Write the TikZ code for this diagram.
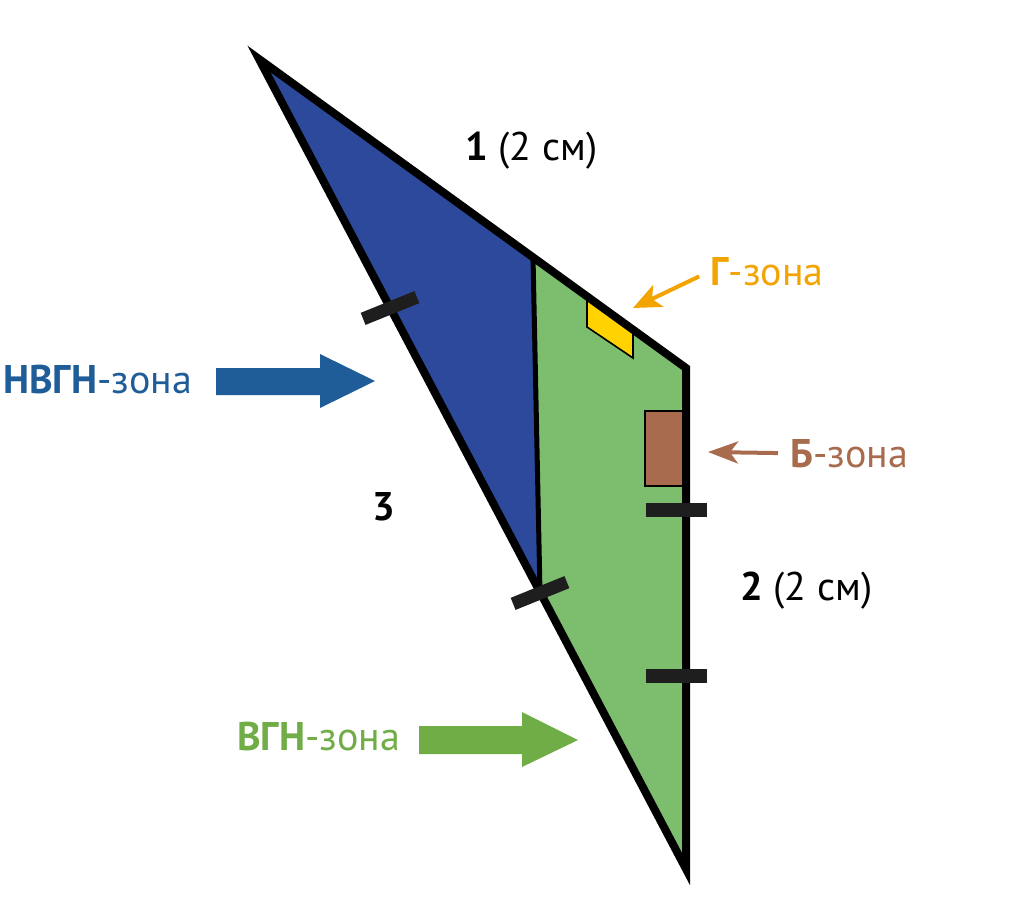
\documentclass[tikz,border=0pt]{standalone}
\usepackage{fontspec}
\setmainfont{PT Sans}
\usetikzlibrary{arrows.meta}
\definecolor{zblue}{RGB}{44,73,155}
\definecolor{zgreen}{RGB}{125,190,110}
\definecolor{tblue}{RGB}{31,93,153}
\definecolor{tgreen}{RGB}{112,173,71}
\definecolor{torange}{RGB}{244,164,0}
\definecolor{tbrown}{RGB}{168,107,77}
\definecolor{zyellow}{RGB}{255,210,0}
\definecolor{tickc}{RGB}{30,30,30}
\begin{document}
\begin{tikzpicture}[x=1pt,y=-1pt,
  lbl/.style={inner sep=0pt, anchor=base west, font=\fontsize{40}{48}\selectfont},
  tickbox/.style={fill=tickc, inner sep=0pt, minimum width=58pt, minimum height=13pt},
  outline/.style={line width=8pt, line join=miter},
  thinbox/.style={draw=black, line width=1.6pt}]
\useasboundingbox (0,0) rectangle (1033,905);
% geometry
\coordinate (A) at (259,59);
\coordinate (B) at (686,368);
\coordinate (C) at (686,869);
\coordinate (D) at (533,257);
\coordinate (E) at (540,593);
% zones
\fill[zblue] (A) -- (D) -- (E) -- cycle;
\fill[zgreen] (D) -- (B) -- (C) -- (E) -- cycle;
\filldraw[thinbox, fill=zyellow] (587,296) -- (633,329.7) -- (633,358) -- (587,327) -- cycle;
\filldraw[thinbox, fill=tbrown] (645,411) rectangle (686,486);
% divider and outline
\draw[line width=5pt] (D) -- (E);
\draw[outline] (A) -- (B) -- (C) -- cycle;
% ticks
\node[tickbox, rotate=22] (t1) at (390,308) {};
\node[tickbox, rotate=22] (t2) at (540,593) {};
\node[tickbox, minimum width=61pt, minimum height=14pt] (t3) at (676.5,510) {};
\node[tickbox, minimum width=61pt, minimum height=14pt] (t4) at (676.5,676) {};
% side labels
\node[lbl] (s1) at (465,160) {\textbf{1} (2 см)};
\node[lbl] (s2) at (740,600) {\textbf{2} (2 см)};
\node[lbl] (s3) at (372,520) {\textbf{3}};
% zone labels
\node[lbl, text=tblue] (lnvgn) at (3,393) {\textbf{НВГН}-зона};
\node[lbl, text=tgreen] (lvgn) at (237,750) {\textbf{ВГН}-зона};
\node[lbl, text=torange] (lg) at (710,285) {\textbf{Г}-зона};
\node[lbl, text=tbrown] (lb) at (790,467) {\textbf{Б}-зона};
% block arrows
\fill[tblue] (216,368) -- (320,368) -- (320,354) -- (375,381) -- (320,408) -- (320,395) -- (216,395) -- cycle;
\fill[tgreen] (419,726) -- (522,726) -- (522,712) -- (578,740) -- (522,767) -- (522,754) -- (419,754) -- cycle;
% thin arrows
\coordinate (gtip) at (633,308);
\coordinate (btip) at (708,452);
\draw[torange, line width=4pt, shorten <=12pt, -{Stealth[length=28pt,width=24pt,inset=7pt]}] (lg.west) -- (gtip);
\draw[tbrown, line width=4pt, shorten <=12pt, -{Stealth[length=30pt,width=22pt,inset=8pt]}] (lb.west) -- (btip);
\end{tikzpicture}
\end{document}
